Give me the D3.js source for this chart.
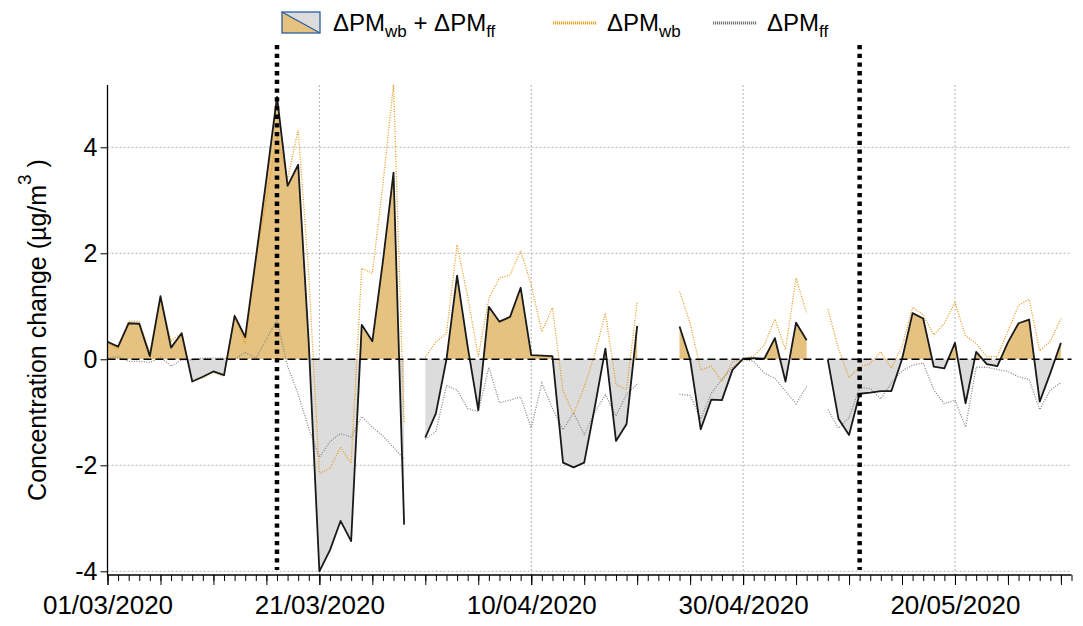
<!DOCTYPE html>
<html><head><meta charset="utf-8">
<script src="https://cdn.jsdelivr.net/npm/d3@7"></script>
<style>
body{margin:0;background:#fff;}
svg text{font-family:"Liberation Sans",Arial,sans-serif;fill:#000;}
</style></head>
<body><svg id="c" width="1083" height="626"></svg>
<script>
// Days since 01/03/2020 (index 0 = 01/03/2020); null = missing
const startDate = new Date(2020, 2, 1);
const endDate = new Date(2020, 4, 31);
const combined = [0.33,0.24,0.68,0.67,0.06,1.19,0.22,0.49,-0.42,-0.33,
  -0.23,-0.30,0.82,0.42,1.9,3.4,4.95,3.27,3.67,0.3,
  -4.0,-3.6,-3.05,-3.43,0.65,0.34,1.85,3.52,-3.12,null,
  -1.48,-1.02,0.0,1.58,0.24,-0.96,0.99,0.71,0.8,1.35,
  0.08,0.07,0.06,-1.95,-2.04,-1.95,-0.9,0.2,-1.54,-1.22,
  0.63,null,null,null,0.62,0.0,-1.32,-0.76,-0.77,-0.2,
  0.01,0.02,0.01,0.4,-0.42,0.69,0.36,null,-0.01,-1.12,
  -1.43,-0.65,-0.63,-0.6,-0.6,0.0,0.87,0.77,-0.14,-0.17,
  0.31,-0.83,0.14,-0.09,-0.13,0.32,0.68,0.75,-0.8,-0.26,
  0.31];
const pmWb = [0.3,0.19,0.72,0.71,0.12,1.15,0.35,0.5,-0.41,-0.35,
  -0.25,-0.32,0.82,0.29,1.88,3.02,4.21,3.4,4.33,1.6,
  -2.15,-2.06,-1.66,-1.96,1.72,1.62,3.3,5.18,-1.2,null,
  0.04,0.33,0.49,2.16,1.18,0.05,1.15,1.53,1.59,2.05,
  1.4,0.52,0.97,-0.6,-1.03,-0.52,0.1,0.87,-0.48,-0.57,
  1.08,null,null,null,1.28,0.68,-0.2,-0.13,-0.42,-0.05,
  0.0,0.06,0.27,0.76,0.18,1.53,0.87,null,0.95,0.2,
  -0.35,-0.14,-0.08,0.14,-0.17,0.24,0.98,0.84,0.46,0.68,
  1.07,0.44,0.3,0.05,0.05,0.53,1.02,1.13,0.16,0.34,
  0.77];
const pmFf = [0.02,0.05,-0.04,-0.04,-0.06,0.04,-0.13,-0.01,-0.01,0.02,
  0.02,0.02,0.0,0.13,0.02,0.38,0.74,-0.13,-0.66,-1.3,
  -1.85,-1.55,-1.4,-1.47,-1.08,-1.28,-1.45,-1.66,-1.88,null,
  -1.51,-1.36,-0.5,-0.58,-0.93,-0.99,-0.15,-0.82,-0.77,-0.71,
  -1.3,-0.45,-0.92,-1.33,-1.01,-1.42,-1.0,-0.67,-1.07,-0.66,
  -0.47,null,null,null,-0.66,-0.68,-1.13,-0.64,-0.38,-0.15,
  0.0,-0.04,-0.26,-0.36,-0.6,-0.84,-0.51,null,-0.95,-1.3,
  -1.1,-0.53,-0.55,-0.75,-0.44,-0.22,-0.11,-0.07,-0.58,-0.84,
  -0.77,-1.28,-0.15,-0.15,-0.19,-0.23,-0.33,-0.38,-0.95,-0.58,
  -0.44];
const yTicks = [-4,-2,0,2,4];
const xTickLabels = ["01/03/2020","21/03/2020","10/04/2020","30/04/2020","20/05/2020"];
const lockdownDates = ["17/03/2020","11/05/2020"];
const legendLabels = [["ΔPM","wb"," + ΔPM","ff"],["ΔPM","wb"],["ΔPM","ff"]];

const parse = d3.timeParse("%d/%m/%Y");
const svg = d3.select("#c");
const L = 107.5, R = 1071.5, T = 85, B = 575;
const x = d3.scaleTime().domain([startDate, endDate]).range([L, R]);
const y = d3.scaleLinear().domain([-4.07, 5.175]).range([B, T]);

const day = i => d3.timeDay.offset(startDate, i);
const toPts = arr => arr.map((v, i) => ({d: day(i), v}));

// gridlines
const g = svg.append("g");
g.selectAll("line.gy").data(yTicks.filter(t => t !== 0)).join("line")
  .attr("x1", L).attr("x2", R).attr("y1", d => y(d)).attr("y2", d => y(d))
  .attr("stroke", "#b4b4b4").attr("stroke-width", 1).attr("stroke-dasharray", "2,2");
g.selectAll("line.gx").data(xTickLabels.slice(1)).join("line")
  .attr("x1", d => x(parse(d))).attr("x2", d => x(parse(d)))
  .attr("y1", T).attr("y2", B)
  .attr("stroke", "#b4b4b4").attr("stroke-width", 1).attr("stroke-dasharray", "2,2");

// clip paths for fill
const defs = svg.append("defs");
defs.append("clipPath").attr("id", "above").append("rect")
  .attr("x", L).attr("y", 0).attr("width", R - L).attr("height", y(0));
defs.append("clipPath").attr("id", "below").append("rect")
  .attr("x", L).attr("y", y(0)).attr("width", R - L).attr("height", 626 - y(0));

const cPts = toPts(combined);
const area = d3.area().defined(d => d.v !== null)
  .x(d => x(d.d)).y0(y(0)).y1(d => y(d.v));
svg.append("path").datum(cPts).attr("d", area).attr("fill", "#e6c280").attr("clip-path", "url(#above)");
svg.append("path").datum(cPts).attr("d", area).attr("fill", "#dcdcdc").attr("clip-path", "url(#below)");

const line = d3.line().defined(d => d.v !== null).x(d => x(d.d)).y(d => y(d.v));
svg.append("path").datum(toPts(pmFf)).attr("d", line).attr("fill", "none")
  .attr("stroke", "#888").attr("stroke-width", 1.3).attr("stroke-dasharray", "1,1.5");
svg.append("path").datum(toPts(pmWb)).attr("d", line).attr("fill", "none")
  .attr("stroke", "#e89a1c").attr("stroke-width", 1.3).attr("stroke-dasharray", "1,1.5");
svg.append("path").datum(cPts).attr("d", line).attr("fill", "none")
  .attr("stroke", "#1a1a1a").attr("stroke-width", 1.8).attr("stroke-linejoin", "round");

// zero line
svg.append("line").attr("x1", L).attr("x2", R).attr("y1", y(0)).attr("y2", y(0))
  .attr("stroke", "#000").attr("stroke-width", 1.5).attr("stroke-dasharray", "8,4");

// lockdown lines
svg.selectAll("line.lock").data(lockdownDates).join("line")
  .attr("x1", d => x(parse(d))).attr("x2", d => x(parse(d)))
  .attr("y1", 45).attr("y2", 570)
  .attr("stroke", "#000").attr("stroke-width", 4.5).attr("stroke-dasharray", "4.3,4.4");

// axes
const yAxis = svg.append("g").attr("transform", `translate(${L},0)`)
  .call(d3.axisLeft(y).tickValues(yTicks).tickSize(7).tickPadding(3).tickFormat(d => String(d)));
yAxis.select(".domain").attr("d", `M0,${T}V${B}`).attr("stroke-width", 1.3);
yAxis.selectAll("text").attr("font-size", 25).attr("font-family", "Liberation Sans, Arial");

const xMinor = svg.append("g").attr("transform", `translate(0,${B})`)
  .call(d3.axisBottom(x).ticks(d3.timeDay.every(1)).tickSize(6).tickFormat(""));
xMinor.select(".domain").attr("d", `M${L},0H${R}`).attr("stroke-width", 1.3);
const xMajor = svg.append("g").attr("transform", `translate(0,${B})`)
  .call(d3.axisBottom(x).ticks(d3.timeDay.filter(d => (d3.timeDay.count(startDate, d)) % 5 === 0)).tickSize(10).tickFormat(""));
xMajor.select(".domain").remove();
const xLab = svg.append("g").attr("transform", `translate(0,${B})`)
  .call(d3.axisBottom(x).tickValues(xTickLabels.map(parse)).tickSize(10).tickPadding(11).tickFormat(d3.timeFormat("%d/%m/%Y")));
xLab.select(".domain").remove();
xLab.selectAll("text").attr("font-size", 26).attr("font-family", "Liberation Sans, Arial");

// y title
const yt = svg.append("text").attr("transform", "translate(46,330) rotate(-90)")
  .attr("text-anchor", "middle").attr("font-size", 25);
yt.append("tspan").text("Concentration change (µg/m");
yt.append("tspan").attr("dy", -15).attr("font-size", 19).text("3");
yt.append("tspan").attr("dy", 15).text(" )");

// legend
const lg = svg.append("g");
lg.append("rect").attr("x", 282).attr("y", 12).attr("width", 38).attr("height", 21).attr("fill", "#dcdcdc");
lg.append("path").attr("d", "M282,12L320,33L282,33Z").attr("fill", "#e6c280");
lg.append("rect").attr("x", 282).attr("y", 12).attr("width", 38).attr("height", 21)
  .attr("fill", "none").attr("stroke", "#2b5ea0").attr("stroke-width", 1.3);
lg.append("line").attr("x1", 282).attr("y1", 12).attr("x2", 320).attr("y2", 33)
  .attr("stroke", "#2b5ea0").attr("stroke-width", 1.3);
function legText(xp, parts) {
  const t = lg.append("text").attr("x", xp).attr("y", 31).attr("font-size", 24);
  parts.forEach((p, i) => {
    if (i % 2 === 0) t.append("tspan").attr("dy", i === 0 ? 0 : -6).attr("font-size", 24).text(p);
    else t.append("tspan").attr("dy", 6).attr("font-size", 17).text(p);
  });
}
legText(333, legendLabels[0]);
lg.append("line").attr("x1", 553).attr("x2", 597).attr("y1", 23).attr("y2", 23)
  .attr("stroke", "#e8a020").attr("stroke-width", 3).attr("stroke-dasharray", "1.2,0.8");
legText(607, legendLabels[1]);
lg.append("line").attr("x1", 713).attr("x2", 757).attr("y1", 23).attr("y2", 23)
  .attr("stroke", "#777").attr("stroke-width", 3).attr("stroke-dasharray", "1.2,0.8");
legText(767, legendLabels[2]);
</script></body></html>
